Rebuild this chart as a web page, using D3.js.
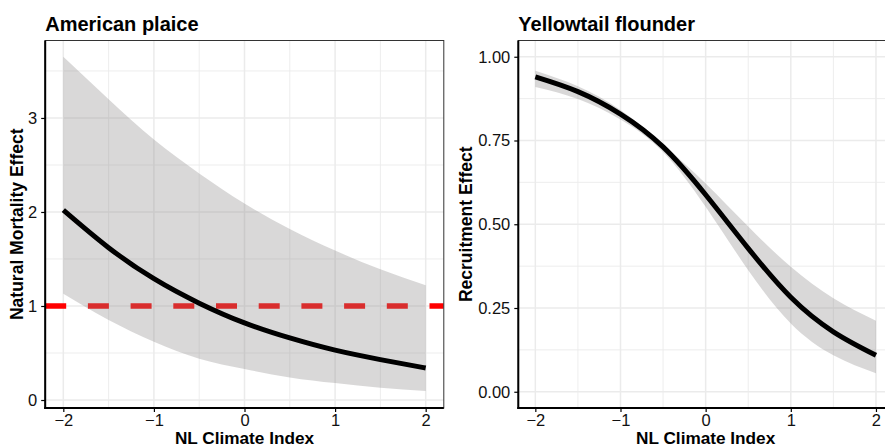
<!DOCTYPE html>
<html>
<head>
<meta charset="utf-8">
<script src="https://cdn.jsdelivr.net/npm/d3@7"></script>
<style>
	body { margin: 0; background: #ffffff; }
	text { font-family: "Liberation Sans", Arial, sans-serif; }
</style>
</head>
<body>
<div id="container"></div>
<script>
/* DATA | values at every half step of the index */
const climateIndex = [-2, -1.5, -1, -0.5, 0, 0.5, 1, 1.5, 2]

/* American plaice : natural mortality effect */
const plaiceFit = [2.02, 1.62, 1.29, 1.03, 0.82, 0.66, 0.53, 0.43, 0.34]
const plaiceLower = [1.13, 0.85, 0.62, 0.44, 0.33, 0.24, 0.18, 0.13, 0.096]
const plaiceUpper = [3.65, 3.2, 2.77, 2.41, 2.09, 1.82, 1.59, 1.39, 1.22]
const plaiceRef = 1 /* dashed red reference line */

/* Yellowtail flounder : recruitment effect */
const yellowFit = [0.94, 0.896, 0.829, 0.731, 0.588, 0.428, 0.282, 0.179, 0.109]
const yellowLower = [0.91, 0.874, 0.813, 0.716, 0.552, 0.363, 0.204, 0.109, 0.055]
const yellowUpper = [0.958, 0.912, 0.841, 0.738, 0.622, 0.493, 0.373, 0.279, 0.212]

/* TICKS */
const xTicks = [-2, -1, 0, 1, 2]
const xMinor = [-1.5, -0.5, 0.5, 1.5]
const plaiceTicks = [0, 1, 2, 3]
const plaiceMinor = [0.5, 1.5, 2.5, 3.5]
const yellowTicks = [0, 0.25, 0.5, 0.75, 1]
const yellowMinor = [0.125, 0.375, 0.625, 0.875]

/* CONSTANTS */
const width = 885,
	height = 447

const svg = d3.select("#container")
	.append("svg")
	.attr("width", width)
	.attr("height", height)

const zip = (fit, lo, hi) => climateIndex.map((x, i) => ({ x: x, fit: fit[i], lo: lo[i], hi: hi[i] }))

/* one ggplot-like panel */
function drawPanel(p) {
	const xScale = d3.scaleLinear().domain([-2.2, 2.2]).range([p.left, p.right])
	const yScale = d3.scaleLinear().domain(p.yDomain).range([p.bottom, p.top])
	const data = zip(p.fit, p.lo, p.hi)

	const clipId = "clip-" + p.id
	svg.append("clipPath").attr("id", clipId)
		.append("rect")
		.attr("x", p.left).attr("y", p.top)
		.attr("width", p.right - p.left).attr("height", p.bottom - p.top)

	const g = svg.append("g").attr("clip-path", `url(#${clipId})`)

	/* grid, minor first */
	g.selectAll(".vminor").data(xMinor).join("line")
		.attr("x1", d => xScale(d)).attr("x2", d => xScale(d))
		.attr("y1", p.top).attr("y2", p.bottom)
		.attr("stroke", "#ebebeb").attr("stroke-width", 0.9)
	g.selectAll(".hminor").data(p.minor).join("line")
		.attr("x1", p.left).attr("x2", p.right)
		.attr("y1", d => yScale(d)).attr("y2", d => yScale(d))
		.attr("stroke", "#ebebeb").attr("stroke-width", 0.9)
	g.selectAll(".vmajor").data(xTicks).join("line")
		.attr("x1", d => xScale(d)).attr("x2", d => xScale(d))
		.attr("y1", p.top).attr("y2", p.bottom)
		.attr("stroke", "#ebebeb").attr("stroke-width", 1.5)
	g.selectAll(".hmajor").data(p.ticks).join("line")
		.attr("x1", p.left).attr("x2", p.right)
		.attr("y1", d => yScale(d)).attr("y2", d => yScale(d))
		.attr("stroke", "#ebebeb").attr("stroke-width", 1.5)

	/* reference line sits under the ribbon */
	if (p.refLine != null) {
		g.append("line")
			.attr("x1", p.left).attr("x2", p.right)
			.attr("y1", yScale(p.refLine)).attr("y2", yScale(p.refLine))
			.attr("stroke", "#ff0000")
			.attr("stroke-width", 5.3)
			.attr("stroke-dasharray", "21,21.7")
	}

	const areaGen = d3.area()
		.x(d => xScale(d.x))
		.y0(d => yScale(d.lo))
		.y1(d => yScale(d.hi))
		.curve(d3.curveNatural)

	g.append("path")
		.attr("d", areaGen(data))
		.attr("fill", "#8c8a88")
		.attr("fill-opacity", 0.33)

	const lineGen = d3.line()
		.x(d => xScale(d.x))
		.y(d => yScale(d.fit))
		.curve(d3.curveNatural)

	g.append("path")
		.attr("d", lineGen(data))
		.attr("fill", "none")
		.attr("stroke", "#000000")
		.attr("stroke-width", 5)

	/* thin border top + right */
	svg.append("rect")
		.attr("x", p.left).attr("y", p.top)
		.attr("width", p.right - p.left).attr("height", p.bottom - p.top)
		.attr("fill", "none").attr("stroke", "#333333").attr("stroke-width", 1)

	/* axes */
	const xAxis = d3.axisBottom(xScale).tickValues(xTicks).tickSize(4).tickPadding(2.5)
		.tickFormat(d3.format("d"))
	const yAxis = d3.axisLeft(yScale).tickValues(p.ticks).tickSize(4).tickPadding(4)
		.tickFormat(p.fmt)

	const xg = svg.append("g")
		.attr("transform", `translate(0, ${p.bottom})`)
		.call(xAxis)
	const yg = svg.append("g")
		.attr("transform", `translate(${p.left}, 0)`)
		.call(yAxis)

	;[xg, yg].forEach(a => {
		a.select(".domain").remove()
		a.selectAll(".tick line").attr("stroke", "#000000").attr("stroke-width", 1.2)
		a.selectAll(".tick text")
			.attr("fill", "#111111")
			.style("font-size", "16.5px")
			.style("font-family", "'Liberation Sans', Arial, sans-serif")
	})

	/* heavy black axis lines on left and bottom */
	svg.append("line")
		.attr("x1", p.left).attr("x2", p.left)
		.attr("y1", p.top).attr("y2", p.bottom + 1)
		.attr("stroke", "#000000").attr("stroke-width", 2)
	svg.append("line")
		.attr("x1", p.left - 1).attr("x2", p.right)
		.attr("y1", p.bottom).attr("y2", p.bottom)
		.attr("stroke", "#000000").attr("stroke-width", 2)

	/* labels */
	svg.append("text")
		.attr("x", p.left)
		.attr("y", 30.5)
		.text(p.title)
		.style("font-size", "20px")
		.style("font-weight", "bold")
		.attr("fill", "#000000")

	svg.append("text")
		.attr("x", (p.left + p.right) / 2)
		.attr("y", 444)
		.attr("text-anchor", "middle")
		.text("NL Climate Index")
		.style("font-size", "17.2px")
		.style("font-weight", "bold")
		.attr("fill", "#000000")

	svg.append("text")
		.attr("transform", `translate(${p.yTitleX}, ${(p.top + p.bottom) / 2}) rotate(-90)`)
		.attr("text-anchor", "middle")
		.text(p.yTitle)
		.style("font-size", "17.5px")
		.style("font-weight", "bold")
		.attr("fill", "#000000")
}

drawPanel({
	id: "plaice",
	left: 45.2, right: 443.8, top: 40.5, bottom: 408,
	yDomain: [-0.085, 3.824],
	fit: plaiceFit, lo: plaiceLower, hi: plaiceUpper,
	ticks: plaiceTicks, minor: plaiceMinor,
	fmt: d3.format("d"),
	refLine: plaiceRef,
	title: "American plaice",
	yTitle: "Natural Mortality Effect",
	yTitleX: 23
})

drawPanel({
	id: "yellow",
	left: 518.3, right: 893, top: 40.5, bottom: 408,
	yDomain: [-0.0485, 1.0485],
	fit: yellowFit, lo: yellowLower, hi: yellowUpper,
	ticks: yellowTicks, minor: yellowMinor,
	fmt: d3.format(".2f"),
	refLine: null,
	title: "Yellowtail flounder",
	yTitle: "Recruitment Effect",
	yTitleX: 471.5
})
</script>
</body>
</html>
